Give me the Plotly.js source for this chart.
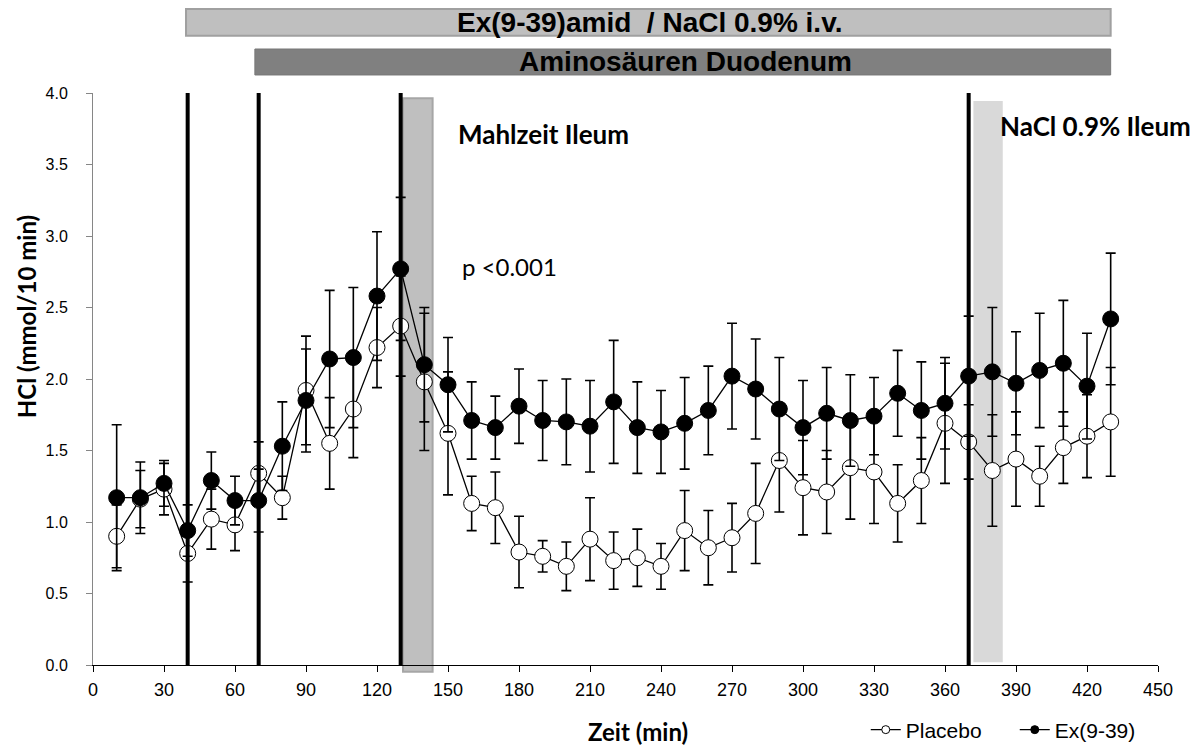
<!DOCTYPE html>
<html>
<head>
<meta charset="utf-8">
<script src="https://cdn.plot.ly/plotly-3.0.1.min.js"></script>
<style>html,body{margin:0;padding:0;background:#fff;}#chart{width:1203px;height:747px;}</style>
</head>
<body>
<div id="chart"></div>
<script>
var timeMin = [10,20,30,40,50,60,70,80,90,100,110,120,130,140,150,160,170,180,190,200,210,220,230,240,250,260,270,280,290,300,310,320,330,340,350,360,370,380,390,400,410,420,430];
var placebo = [0.90,1.16,1.23,0.78,1.02,0.98,1.34,1.17,1.92,1.55,1.79,2.22,2.37,1.98,1.62,1.13,1.10,0.79,0.76,0.69,0.88,0.73,0.75,0.69,0.94,0.82,0.89,1.06,1.43,1.24,1.21,1.38,1.35,1.13,1.29,1.69,1.56,1.36,1.44,1.32,1.52,1.60,1.70];
var placeboErr = [0.22,0.20,0.18,0.20,0.21,0.18,0.22,0.15,0.38,0.32,0.34,0.28,0.35,0.48,0.43,0.19,0.25,0.25,0.11,0.17,0.29,0.20,0.20,0.16,0.28,0.26,0.24,0.35,0.36,0.33,0.29,0.36,0.36,0.27,0.30,0.42,0.26,0.39,0.33,0.21,0.25,0.29,0.38];
var exendin = [1.17,1.17,1.27,0.94,1.29,1.15,1.15,1.53,1.85,2.14,2.15,2.58,2.77,2.10,1.96,1.71,1.66,1.81,1.71,1.70,1.67,1.84,1.66,1.63,1.69,1.78,2.02,1.93,1.79,1.66,1.76,1.71,1.74,1.90,1.78,1.83,2.02,2.05,1.97,2.06,2.11,1.95,2.42];
var exendinErr = [0.51,0.25,0.16,0.18,0.20,0.17,0.22,0.31,0.36,0.48,0.49,0.45,0.50,0.40,0.33,0.27,0.22,0.26,0.28,0.30,0.32,0.43,0.32,0.29,0.32,0.31,0.37,0.35,0.36,0.33,0.32,0.32,0.27,0.30,0.34,0.32,0.42,0.45,0.36,0.40,0.44,0.37,0.46];
var xTicks = [0,30,60,90,120,150,180,210,240,270,300,330,360,390,420,450];
var yTicks = [0,0.5,1,1.5,2,2.5,3,3.5,4];
var infusionLines = [40,70,130,370];
var seriesNames = ['Placebo','Ex(9-39)'];

var markerFill = ['#fff', '#000'];
var seriesY = [placebo, exendin];
var seriesErr = [placeboErr, exendinErr];

var traces = [];
seriesNames.forEach(function (nm, i) {
  traces.push({x: timeMin, y: seriesY[i], name: nm, type: 'scatter', mode: 'lines+markers', showlegend: false,
    line: {color: '#000', width: 1.3},
    marker: {symbol: 'circle', size: 16, color: markerFill[i], line: {color: '#000', width: 1}},
    error_y: {type: 'data', array: seriesErr[i], visible: true, color: '#000', thickness: 1.6, width: 5}});
});
// legend-only entries with small symbols
seriesNames.forEach(function (nm, i) {
  traces.push({x: [null], y: [null], name: nm, type: 'scatter', mode: 'lines+markers', showlegend: true,
    line: {color: '#000', width: 1.3},
    marker: {symbol: 'circle', size: 8, color: markerFill[i], line: {color: '#000', width: 1}}});
});

var shapes = [
  {type: 'rect', xref: 'x', yref: 'paper', x0: 131, x1: 143.5, y0: -0.012, y1: 0.991,
   fillcolor: '#bfbfbf', line: {color: '#a6a6a6', width: 2}, layer: 'below'},
  {type: 'rect', xref: 'x', yref: 'paper', x0: 372, x1: 384.4, y0: 0.005, y1: 0.986,
   fillcolor: '#d9d9d9', line: {width: 0}, layer: 'below'},
  {type: 'rect', xref: 'x', yref: 'paper', x0: 39.3, x1: 430, y0: 1.1002, y1: 1.1469,
   fillcolor: '#bfbfbf', line: {color: '#a0a0a0', width: 2}, layer: 'above'},
  {type: 'rect', xref: 'x', yref: 'paper', x0: 68.4, x1: 430, y0: 1.0315, y1: 1.0769,
   fillcolor: '#808080', line: {color: '#777', width: 1}, layer: 'above'}
];
infusionLines.forEach(function (t) {
  shapes.push({type: 'line', xref: 'x', yref: 'paper', x0: t, x1: t, y0: 0, y1: 1,
    line: {color: '#000', width: 4}, layer: 'above'});
});

var annotations = [
  {xref: 'x', yref: 'paper', x: 235.3, y: 1.1234, xanchor: 'center', yanchor: 'middle', text: '<b>Ex(9-39)amid&nbsp; / NaCl 0.9% i.v.</b>', showarrow: false,
   font: {family: 'Liberation Sans, Arial', size: 28, color: '#000'}},
  {xref: 'x', yref: 'paper', x: 250.3, y: 1.0542, xanchor: 'center', yanchor: 'middle', text: '<b>Aminosäuren Duodenum</b>', showarrow: false,
   font: {family: 'Liberation Sans, Arial', size: 28, color: '#000'}},
  {xref: 'x', yref: 'paper', x: 153.4, y: 0.929, xanchor: 'left', yanchor: 'middle', text: '<b>Mahlzeit Ileum</b>', showarrow: false,
   font: {family: 'Lato, Open Sans', size: 26, color: '#000'}},
  {xref: 'x', yref: 'paper', x: 382.5, y: 0.942, xanchor: 'left', yanchor: 'middle', text: '<b>NaCl 0.9% Ileum</b>', showarrow: false,
   font: {family: 'Lato, Open Sans', size: 26, color: '#000'}},
  {xref: 'x', yref: 'paper', x: 155.2, y: 0.697, xanchor: 'left', yanchor: 'middle', text: 'p <0.001', showarrow: false,
   font: {family: 'Lato, Open Sans', size: 24, color: '#000'}},
  {xref: 'paper', yref: 'paper', x: -0.0629, y: 0.608, xanchor: 'center', yanchor: 'middle', text: '<b>HCl (mmol/10 min)</b>', textangle: -90, showarrow: false,
   font: {family: 'Lato, Open Sans', size: 24, color: '#000'}},
  {xref: 'paper', yref: 'paper', x: 0.512, y: -0.1154, xanchor: 'center', yanchor: 'middle', text: '<b>Zeit (min)</b>', showarrow: false,
   font: {family: 'Lato, Open Sans', size: 24, color: '#000'}}
];

var layout = {
  width: 1203, height: 747,
  margin: {l: 93, r: 45, t: 93, b: 82, autoexpand: false},
  paper_bgcolor: '#fff', plot_bgcolor: '#fff',
  showlegend: true,
  legend: {orientation: 'h', x: 0.7256, y: -0.1136, xanchor: 'left', yanchor: 'middle',
    font: {family: 'Liberation Sans, Arial', size: 21, color: '#000'},
    itemwidth: 30, bgcolor: 'rgba(0,0,0,0)', entrywidth: 104, entrywidthmode: 'pixels'},
  xaxis: {range: [0, 450], tickmode: 'array', tickvals: xTicks, ticks: 'outside', ticklen: 6, tickcolor: '#000',
    showline: true, linecolor: '#000', linewidth: 1, showgrid: false, zeroline: false,
    ticklabelstandoff: 2,
    tickfont: {family: 'Liberation Sans, Arial', size: 18, color: '#000'}},
  yaxis: {range: [0, 4], tickmode: 'array', tickvals: yTicks, tickformat: '.1f', ticks: 'outside', ticklen: 6,
    tickcolor: '#868686', showline: true, linecolor: '#868686', linewidth: 1, showgrid: false, zeroline: false,
    ticklabelstandoff: 15,
    tickfont: {family: 'Liberation Sans, Arial', size: 16, color: '#000'}},
  shapes: shapes,
  annotations: annotations
};

Plotly.newPlot('chart', traces, layout, {displayModeBar: false, responsive: false});
</script>
</body>
</html>
